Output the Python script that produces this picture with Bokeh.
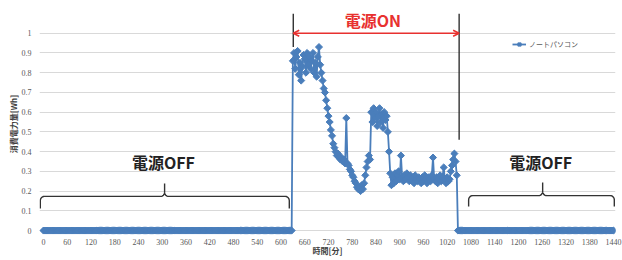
import math
from bokeh.plotting import figure
from bokeh.models import (Range1d, FixedTicker, CustomJSTickFormatter, Label, Arrow,
                          OpenHead, Legend, LegendItem)
from bokeh.embed import file_html
from bokeh.resources import INLINE

# ---------------- data ----------------
series_name = "ノートパソコン"
x_title = "時間[分]"
y_title = "消費電力量[Wh]"
minutes = list(range(0, 1441, 3))          # time axis [min]
off_before = [0.0] * 210                   # 0 .. 627 min: power off
on_values = [                              # 630 .. 1044 min: power on [Wh]
    0.86, 0.90, 0.82, 0.88, 0.91, 0.79, 0.85, 0.76, 0.83, 0.89,
    0.87, 0.80, 0.90, 0.84, 0.88, 0.82, 0.86, 0.90, 0.80, 0.85,
    0.78, 0.88, 0.93, 0.84, 0.80, 0.76, 0.72, 0.70, 0.66, 0.62,
    0.58, 0.55, 0.51, 0.48, 0.44, 0.42, 0.40, 0.38, 0.39, 0.37,
    0.36, 0.37, 0.35, 0.36, 0.34, 0.57, 0.34, 0.33, 0.31, 0.30,
    0.28, 0.27, 0.25, 0.24, 0.22, 0.21, 0.22, 0.20, 0.23, 0.21,
    0.24, 0.28, 0.32, 0.35, 0.38, 0.36, 0.60, 0.55, 0.62, 0.57,
    0.60, 0.53, 0.58, 0.62, 0.55, 0.59, 0.52, 0.60, 0.56, 0.58,
    0.50, 0.40, 0.29, 0.23, 0.27, 0.24, 0.29, 0.25, 0.28, 0.30,
    0.26, 0.38, 0.27, 0.25, 0.28, 0.26, 0.29, 0.27, 0.25, 0.28,
    0.26, 0.27, 0.24, 0.28, 0.26, 0.25, 0.27, 0.26, 0.24, 0.27,
    0.25, 0.28, 0.26, 0.24, 0.27, 0.26, 0.25, 0.28, 0.37, 0.26,
    0.25, 0.27, 0.24, 0.26, 0.28, 0.25, 0.27, 0.32, 0.26, 0.24,
    0.27, 0.25, 0.26, 0.30, 0.33, 0.36, 0.39, 0.35, 0.28,
]
off_after = [0.0] * 132                    # 1047 .. 1440 min: power off
power_wh = off_before + on_values + off_after
assert len(power_wh) == len(minutes)

x_ticks = list(range(0, 1441, 60))
y_ticks = [0, 0.1, 0.2, 0.3, 0.4, 0.5, 0.6, 0.7, 0.8, 0.9, 1.0]

on_start, on_end = 631, 1050               # annotation markers [min]

# ---------------- styles ----------------
BLUE = "#4A7EBB"
RED = "#E8312F"
DARK = "#222222"
GRAY_TXT = "#595959"
CJK = "Noto Sans CJK JP"

p = figure(width=622, height=260,
           x_range=Range1d(-10, 1445), y_range=Range1d(-0.02, 1.1),
           output_backend="svg", toolbar_location=None,
           min_border_left=39, min_border_right=7,
           min_border_top=13, min_border_bottom=26)
p.outline_line_color = None
p.background_fill_color = "white"
p.xgrid.visible = False
p.ygrid.grid_line_color = "#D9D9D9"
p.ygrid.grid_line_width = 1

# axes
p.yaxis.ticker = FixedTicker(ticks=y_ticks)
p.yaxis.formatter = CustomJSTickFormatter(code="return tick.toFixed(1).replace(/\\.0$/, '');")
p.xaxis.ticker = FixedTicker(ticks=x_ticks)
for ax in (p.xaxis, p.yaxis):
    ax.axis_line_color = None
    ax.major_tick_line_color = None
    ax.minor_tick_line_color = None
    ax.major_label_text_font = "Liberation Serif"
    ax.major_label_text_font_size = "8px"
    ax.major_label_text_color = GRAY_TXT
    ax.axis_label_text_font = CJK
    ax.axis_label_text_font_size = "8px"
    ax.axis_label_text_font_style = "bold"
    ax.axis_label_text_color = "#404040"
p.xaxis.major_label_standoff = -2
p.yaxis.major_label_standoff = 2
p.yaxis.axis_label = y_title
p.yaxis.axis_label_standoff = 0
p.xaxis.axis_label = x_title
p.xaxis.axis_label_standoff = -3

# annotation lines (behind data)
p.segment(x0=[on_start, on_end], y0=[1.1, 1.1], x1=[on_start, on_end], y1=[0.93, 0.46],
          line_color=DARK, line_width=1.3)

# data
line_r = p.line(minutes, power_wh, line_color=BLUE, line_width=1.8)
pts_r = p.scatter(minutes, power_wh, marker="square", angle=math.pi / 4, size=5,
                  fill_color=BLUE, line_color=BLUE)

# braces
def brace(xl, xr, xm, y_line, y_end, y_tip, rx=10.0, ry=0.022, n=8):
    xs, ys = [xl], [y_end]
    def arc(cx, cy, a0, a1):
        for k in range(n + 1):
            a = math.radians(a0 + (a1 - a0) * k / n)
            xs.append(cx + rx * math.cos(a))
            ys.append(cy + ry * math.sin(a))
    arc(xl + rx, y_line - ry, 180, 90)
    arc(xm - rx, y_line + ry, 270, 360)
    xs.append(xm); ys.append(y_tip)
    arc(xm + rx, y_line + ry, 180, 270)
    arc(xr - rx, y_line - ry, 90, 0)
    xs.append(xr); ys.append(y_end)
    return xs, ys

for args in [(-8, 621, 306, 0.173, 0.112, 0.238),
             (1074, 1442, 1261, 0.177, 0.122, 0.244)]:
    bx, by = brace(*args)
    p.line(bx, by, line_color="#333333", line_width=1.4)

# red double arrow
p.add_layout(Arrow(start=OpenHead(size=6, line_color=RED, line_width=1.5),
                   end=OpenHead(size=6, line_color=RED, line_width=1.5),
                   x_start=on_start, y_start=1.0, x_end=on_end, y_end=1.0,
                   line_color=RED, line_width=1.5))

# texts
p.add_layout(Label(x=832, y=1.069, text="電源ON", text_font=CJK, text_font_size="16px",
                   text_font_style="bold", text_color=RED,
                   text_align="center", text_baseline="middle"))
for xc in (303, 1256):
    p.add_layout(Label(x=xc, y=0.345, text="電源OFF", text_font=CJK, text_font_size="16px",
                       text_font_style="bold", text_color=DARK,
                       text_align="center", text_baseline="middle"))

# legend
legend = Legend(items=[LegendItem(label=series_name, renderers=[line_r, pts_r])],
                location=(473, 185), padding=0, margin=0, spacing=0,
                glyph_width=14, glyph_height=8, label_height=8, label_standoff=3,
                label_text_font=CJK, label_text_font_size="7px",
                label_text_color=GRAY_TXT,
                border_line_color=None, background_fill_alpha=0)
p.add_layout(legend)

open("out.html", "w").write(file_html(p, INLINE))
